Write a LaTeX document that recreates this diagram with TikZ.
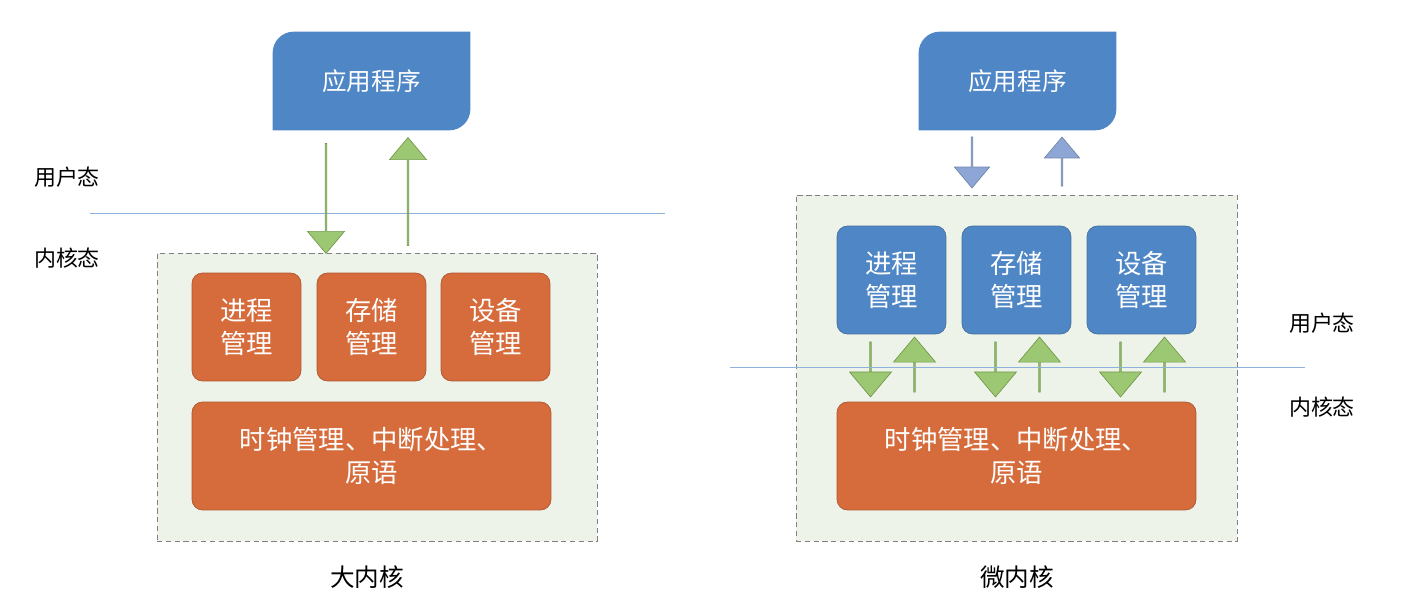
\documentclass[tikz,border=0pt]{standalone}
\usepackage{fontspec}
\setmainfont{Noto Sans CJK SC}
\usetikzlibrary{shapes.arrows}
\definecolor{appblue}{HTML}{4F86C6}
\definecolor{appedge}{HTML}{41719C}
\definecolor{orng}{HTML}{D66B3B}
\definecolor{orngedge}{HTML}{AE5530}
\definecolor{grn}{HTML}{9DC873}
\definecolor{grnedge}{HTML}{72994B}
\definecolor{lblue}{HTML}{8EA6D5}
\definecolor{bgreen}{HTML}{EEF3E9}
\definecolor{sep}{HTML}{8DB3DC}
\tikzset{
  kbox/.style={draw=orngedge,fill=orng,rounded corners=6pt,text=white,align=center,font=\fontsize{15}{19}\selectfont,inner sep=0pt},
  mbox/.style={kbox,draw=appedge,fill=appblue},
  blk/.style={single arrow,draw=grnedge,fill=grn,inner sep=0pt,minimum width=0.74cm,minimum height=#1,single arrow head extend=0.17cm,single arrow tip angle=80},
  sblk/.style={blk=#1,minimum width=0.84cm,single arrow head extend=0.2cm},
  ublk/.style={blk=#1,draw=lblue!80!black,fill=lblue,minimum width=0.70cm,single arrow head extend=0.16cm},
  lbl/.style={font=\fontsize{12.5}{15}\selectfont},
}
\begin{document}
\begin{tikzpicture}[x=0.02cm,y=-0.02cm]
    \useasboundingbox (0,0) rectangle (1401,602);

    % left: big kernel
    \node (bg1) at (377,397) [draw=gray,densely dashed,fill=bgreen,minimum width=8.8cm,minimum height=5.76cm]{};
    \draw[sep] (90,213) -- (665,213);
    \node[lbl] (u1) at (67,177) {用户态};
    \node[lbl] (k1) at (67,258) {内核态};
    \node (app1) at (371.5,81) [minimum width=3.94cm,minimum height=1.96cm]{};
    \fill[appblue] (app1.south west) -- ([yshift=-12pt]app1.north west) arc(180:90:12pt) -- (app1.north east) -- ([yshift=12pt]app1.south east) arc(0:-90:12pt) -- cycle;
    \node[text=white,font=\fontsize{14}{16}\selectfont] at (app1) {应用程序};
    \node (d1) at (326,198) [blk=2.2cm,rotate=-90]{};
    \node (up1) at (408,192) [blk=2.16cm,rotate=90]{};
    \node (p1) at (246.5,327) [kbox,minimum width=2.18cm,minimum height=2.16cm] {进程\\管理};
    \node (m1) at (371.5,327) [kbox,minimum width=2.18cm,minimum height=2.16cm] {存储\\管理};
    \node (dv1) at (495.5,327) [kbox,minimum width=2.18cm,minimum height=2.16cm] {设备\\管理};
    \node (c1) at (371.5,456) [kbox,minimum width=7.18cm,minimum height=2.16cm] {时钟管理、中断处理、\\原语};
    \node[lbl,font=\fontsize{14}{16}\selectfont] (t1) at (367,577) {大内核};

    % right: micro kernel
    \node (bg2) at (1016.5,368) [draw=gray,densely dashed,fill=bgreen,minimum width=8.82cm,minimum height=6.92cm]{};
    \node (app2) at (1017.5,81) [minimum width=3.94cm,minimum height=1.96cm]{};
    \fill[appblue] (app2.south west) -- ([yshift=-12pt]app2.north west) arc(180:90:12pt) -- (app2.north east) -- ([yshift=12pt]app2.south east) arc(0:-90:12pt) -- cycle;
    \node[text=white,font=\fontsize{14}{16}\selectfont] at (app2) {应用程序};
    \node (d2) at (972,162) [ublk=1.02cm,rotate=-90]{};
    \node (up2) at (1062,162) [ublk=0.98cm,rotate=90]{};
    \node (p2) at (891.5,280) [mbox,minimum width=2.18cm,minimum height=2.16cm] {进程\\管理};
    \node (m2) at (1016.5,280) [mbox,minimum width=2.18cm,minimum height=2.16cm] {存储\\管理};
    \node (dv2) at (1141.5,280) [mbox,minimum width=2.18cm,minimum height=2.16cm] {设备\\管理};
    \foreach \n/\cx in {p/891.5,m/1016.5,dv/1141.5}{
      \node (\n dn) at (\cx-21,369) [sblk=1.1cm,rotate=-90]{};
      \node (\n upa) at (\cx+23,365) [sblk=1.1cm,rotate=90]{};
    }
    \draw[sep] (730,367) -- (1305,367);
    \node[lbl] (u2) at (1322,323) {用户态};
    \node[lbl] (k2) at (1322,407) {内核态};
    \node (c2) at (1016.5,456) [kbox,minimum width=7.18cm,minimum height=2.16cm] {时钟管理、中断处理、\\原语};
    \node[lbl,font=\fontsize{14}{16}\selectfont] (t2) at (1017,577) {微内核};
\end{tikzpicture}
\end{document}
